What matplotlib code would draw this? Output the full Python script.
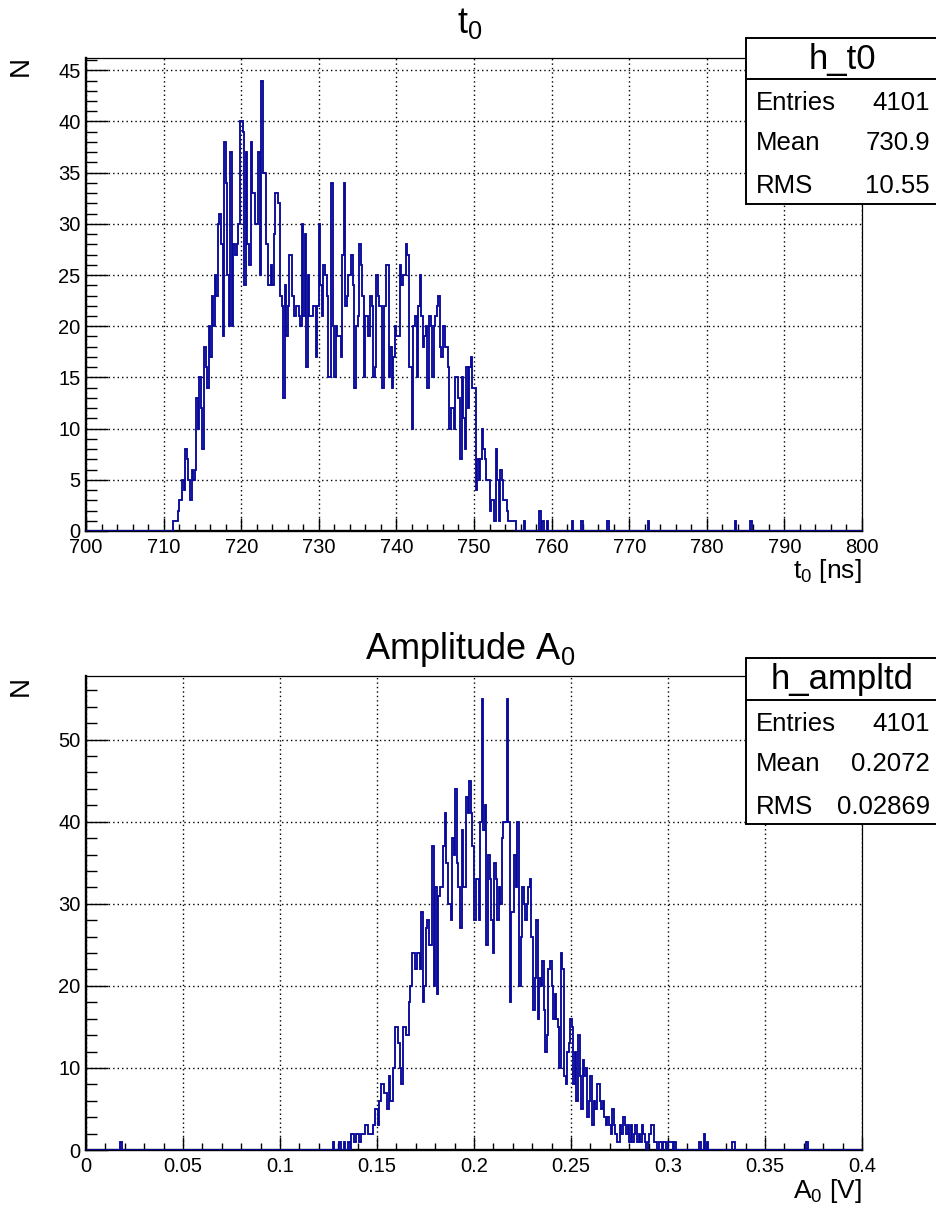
import numpy as np
import matplotlib
matplotlib.use("Agg")
import matplotlib.pyplot as plt
from matplotlib.patches import Rectangle
from matplotlib.lines import Line2D
from matplotlib.ticker import MultipleLocator, FuncFormatter

# ---------------- histogram contents ----------------
# h_t0 : 500 bins on [700, 800) ns, bin width 0.2 ns
t0_range = (700.0, 800.0)
t0_nbins = 500
t0_core_start = 711.2          # low edge of the first filled bin
t0_core = [
    1, 1, 1, 2, 3, 3, 5, 4, 8, 7, 5, 3, 6, 5, 6, 13, 10, 15, 12, 8,
    18, 16, 14, 20, 17, 23, 20, 25, 23, 30, 31, 28, 19, 38, 34, 25, 20, 37, 20, 28,
    27, 28, 30, 40, 40, 39, 24, 37, 28, 26, 38, 33, 33, 30, 30, 37, 25, 44, 35, 35,
    28, 24,
    24, 26, 24, 29, 33, 33, 32, 23, 22, 13, 24, 19, 22, 27, 27, 23, 21, 22, 22, 21,
    20, 30, 21, 29, 16, 25, 21, 21, 22, 22, 17, 22, 30, 24, 21, 26, 25, 23, 15, 15,
    34, 20, 15, 20, 19, 19, 17, 27, 34, 22, 23, 25, 25, 27, 24, 14, 20, 21, 28, 26,
    23, 15, 21, 21, 19, 23, 22, 15,
    16, 25, 23, 22, 22, 14, 22, 26, 26, 15, 18, 14, 17, 20, 19, 19, 26, 24, 25, 25,
    28, 27, 16, 16, 10, 20, 21, 15, 22, 25, 21, 18, 19, 20, 14, 21, 20, 15, 20, 21,
    22, 23, 18, 17, 20, 18, 18, 16, 10, 12, 12, 10, 15, 15, 13, 7, 15, 11, 8, 16,
    12, 16, 17, 14, 14, 4, 7, 5, 7, 10, 8, 7, 5, 5, 2, 3, 3, 1, 8, 5,
    1, 6, 5, 3, 3, 2, 1, 1, 1, 1, 1,
]
# isolated late entries (time in ns, count)
t0_tail_t = [756.5, 758.5, 758.9, 759.5, 762.7, 763.9, 767.3, 772.5, 783.7, 785.7]
t0_tail_n = [1, 2, 1, 1, 1, 1, 1, 1, 1, 1]
t0_stats = {"name": "h_t0", "Entries": "4101", "Mean": "730.9", "RMS": "10.55"}

# h_ampltd : 500 bins on [0, 0.4) V, bin width 0.0008 V
amp_range = (0.0, 0.4)
amp_nbins = 500
amp_core_start = 0.1272
amp_core = [
    1, 0, 0, 0, 1, 0, 0, 1, 0, 0,
    1, 0, 2, 2, 1, 2, 2, 1, 2, 2,
    2, 3, 3, 2, 2, 2, 3, 5, 5, 3,
    6, 8, 8, 7, 7, 5, 9, 6, 6, 10,
    15, 15, 13, 10, 8, 15, 15, 14, 14, 18,
    20, 24, 24, 22, 24, 24, 22, 29, 18, 20,
    27, 28, 25, 25, 37, 20, 32, 19, 31, 32,
    32, 37, 41, 35, 30, 30, 28, 38, 36, 44,
    35, 32, 27, 39, 32, 32, 43, 41, 45, 41,
    37, 28, 33, 33, 28, 40, 55, 39, 42, 25,
    36, 33, 28, 24, 35, 33, 28, 32, 30, 38,
    40, 40, 55, 40, 18, 29, 29, 36, 32, 40,
    20, 26, 32, 30, 28, 30, 32, 33, 26, 17,
    21, 28, 16, 21, 20, 23, 17, 12, 14, 22,
    23, 20, 16, 19, 16, 15, 10, 24, 22, 9,
    8, 12, 13, 16, 15, 8, 12, 6, 14, 9,
    5, 11, 9, 10, 4, 6, 9, 3, 6, 5,
    8, 8, 6, 5, 6, 4, 3, 4, 3, 2,
    5, 3, 2, 1, 1, 3, 2, 4, 3, 2,
    3, 1, 3, 1, 2, 3, 1, 2, 1, 3,
    2, 1, 0, 1, 2, 3, 3, 1, 1, 0,
    1, 1, 0, 1, 1, 0, 1, 1, 1, 0, 1,
]
amp_tail_a = [0.0180, 0.3164, 0.3188, 0.3204, 0.3332, 0.3340, 0.3716]
amp_tail_n = [1, 1, 2, 1, 1, 1, 1]
amp_stats = {"name": "h_ampltd", "Entries": "4101", "Mean": "0.2072", "RMS": "0.02869"}


def fill_hist(rng, nbins, start, core, tail_x, tail_n):
    edges = np.linspace(rng[0], rng[1], nbins + 1)
    width = (rng[1] - rng[0]) / nbins
    centers = start + width * (np.arange(len(core)) + 0.5)
    h_core, _ = np.histogram(centers, bins=edges, weights=core)
    h_tail, _ = np.histogram(tail_x, bins=edges, weights=tail_n)
    return h_core + h_tail, edges


t0_counts, t0_edges = fill_hist(t0_range, t0_nbins, t0_core_start, t0_core, t0_tail_t, t0_tail_n)
amp_counts, amp_edges = fill_hist(amp_range, amp_nbins, amp_core_start, amp_core, amp_tail_a, amp_tail_n)

# ---------------- style ----------------
plt.rcParams['font.family'] = ['Liberation Sans', 'DejaVu Sans']
plt.rcParams['mathtext.fontset'] = 'custom'
plt.rcParams['mathtext.rm'] = 'Liberation Sans'
plt.rcParams['mathtext.it'] = 'Liberation Sans'

W, H = 936, 1209
fig = plt.figure(figsize=(W / 100, H / 100), dpi=100)
fig.patch.set_facecolor('white')

LINE = '#08089a'


def fx(x):
    return x / W


def fy(y):
    return 1 - y / H


def make_axes(x0, y0, x1, y1):
    return fig.add_axes([fx(x0), fy(y1), (x1 - x0) / W, (y1 - y0) / H])


def style_axes(ax, xlim, ylim, xmaj, xmin, ymaj, ymin, xfmt):
    ax.set_xlim(*xlim)
    ax.set_ylim(*ylim)
    ax.xaxis.set_major_locator(MultipleLocator(xmaj))
    ax.xaxis.set_minor_locator(MultipleLocator(xmin))
    ax.yaxis.set_major_locator(MultipleLocator(ymaj))
    ax.yaxis.set_minor_locator(MultipleLocator(ymin))
    ax.xaxis.set_major_formatter(FuncFormatter(xfmt))
    ax.yaxis.set_major_formatter(FuncFormatter(lambda v, p: f"{v:g}"))
    ax.tick_params(axis='both', which='both', direction='in', top=False, right=False,
                   width=1.0, color='black', labelsize=14.5)
    ax.tick_params(axis='x', which='major', length=9.5, pad=5)
    ax.tick_params(axis='x', which='minor', length=4.8)
    ax.tick_params(axis='y', which='major', length=16, pad=4)
    ax.tick_params(axis='y', which='minor', length=8)
    for side in ('left', 'bottom'):
        ax.spines[side].set_linewidth(1.7)
    for side in ('top', 'right'):
        ax.spines[side].set_linewidth(0.9)
    ax.set_axisbelow(True)
    ax.grid(True, which='major', color='black', linestyle=(0, (1, 2.2)), linewidth=1.0)


def stats_box(top, stats):
    x0 = 746
    rows = [("Entries", 42), ("Mean", 82), ("RMS", 124.5)]
    bottom = top + 166
    fig.add_artist(Rectangle((fx(x0), fy(bottom)), fx(960 - x0), (bottom - top) / H,
                             transform=fig.transFigure, facecolor='white',
                             edgecolor='black', linewidth=1.4, zorder=5))
    fig.add_artist(Line2D([fx(x0), 1.0], [fy(top + 41.5)] * 2, transform=fig.transFigure,
                          color='black', linewidth=1.4, zorder=6))
    fig.text(fx(842), fy(top + 31), stats["name"], ha='center', va='baseline',
             fontsize=25, zorder=7)
    for label, dy in rows:
        fig.text(fx(756), fy(top + 31 + dy), label, ha='left', va='baseline',
                 fontsize=18.5, zorder=7)
        fig.text(fx(930), fy(top + 31 + dy), stats[label], ha='right', va='baseline',
                 fontsize=18.5, zorder=7)


# ---------------- upper pad : t0 ----------------
ax1 = make_axes(86, 58, 862, 531)
ax1.stairs(t0_counts, t0_edges, baseline=0, color=LINE, linewidth=1.35, zorder=3)
style_axes(ax1, t0_range, (0, 46.2), 10, 2, 5, 1, lambda v, p: f"{v:g}")
fig.text(fx(470), fy(33), r'$\mathrm{t}_0$', ha='center', va='baseline', fontsize=26)
fig.text(fx(862), fy(578), r'$\mathrm{t}_0\ \mathrm{[ns]}$', ha='right', va='baseline',
         fontsize=19)
fig.text(fx(20.5), fy(66), 'N', rotation=90, ha='center', va='center', fontsize=20)
stats_box(37.5, t0_stats)

# ---------------- lower pad : amplitude ----------------
ax2 = make_axes(86, 676, 862, 1150)
ax2.stairs(amp_counts, amp_edges, baseline=0, color=LINE, linewidth=1.35, zorder=3)
style_axes(ax2, amp_range, (0, 57.75), 0.05, 0.01, 10, 2, lambda v, p: f"{v:g}")
fig.text(fx(470), fy(659), r'$\mathrm{Amplitude\ A}_0$', ha='center', va='baseline',
         fontsize=26)
fig.text(fx(862), fy(1198), r'$\mathrm{A}_0\ \mathrm{[V]}$', ha='right', va='baseline',
         fontsize=19)
fig.text(fx(20.5), fy(686), 'N', rotation=90, ha='center', va='center', fontsize=20)
stats_box(658, amp_stats)

fig.savefig('out.png', dpi=100, facecolor='white')
